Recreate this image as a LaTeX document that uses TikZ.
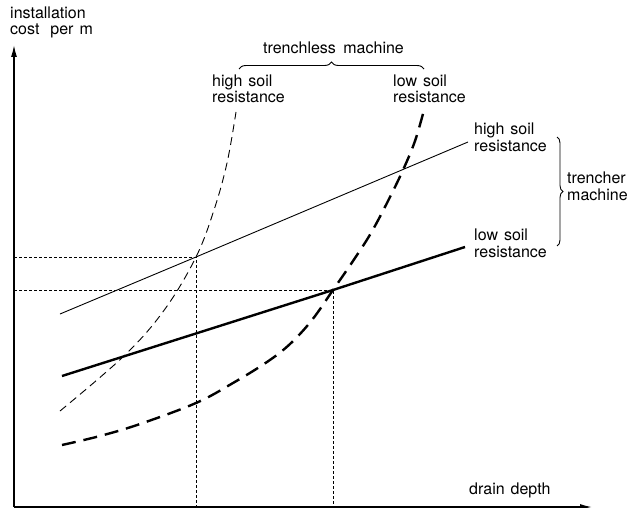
\documentclass[tikz,border=0pt]{standalone}
\usepackage{fontspec}
\setmainfont{TeX Gyre Heros}
\usetikzlibrary{decorations.pathreplacing,arrows.meta}
\begin{document}
\begin{tikzpicture}[x=1pt,y=-1pt,
  lbl/.style={inner sep=0pt,anchor=base west,font=\fontsize{16}{16}\selectfont},
  axis/.style={line width=1.4pt,-{Latex[length=12pt,width=6pt]}},
  thinline/.style={line width=0.9pt},
  thickline/.style={line width=2.4pt},
  thindash/.style={line width=0.9pt,dash pattern=on 8pt off 5pt},
  thickdash/.style={line width=2.4pt,dash pattern=on 14pt off 8pt},
  dotline/.style={line width=1pt,dash pattern=on 3pt off 2pt},
  bracestyle/.style={line width=0.9pt,decorate,decoration={brace,amplitude=#1}}
]
\useasboundingbox (0,0) rectangle (629,508);
% axes
\coordinate (O) at (14,507);
\coordinate (ytip) at (14,45);
\coordinate (xtip) at (592,507);
\draw[axis] (O) -- (ytip);
\draw[axis] (O) -- (xtip);
% trencher lines
\coordinate (h0) at (60,314);
\coordinate (H) at (196,257);
\coordinate (h1) at (468,142);
\coordinate (l0) at (62,376);
\coordinate (L) at (333,290);
\coordinate (l1) at (465,247);
\draw[thinline] (h0) -- (H) -- (h1);
\draw[thickline] (l0) -- (L) -- (l1);
% trenchless curves
\draw[thindash] plot[smooth,tension=0.6] coordinates {(60,411) (125,355) (165,309) (196,257) (214,210) (227,163) (236,112)};
\draw[thickdash] plot[smooth,tension=0.6] coordinates {(62,445) (100,436) (140,424) (196,403) (233,383) (267,362) (290,344) (312,320) (333,290) (353,261) (371,233) (388,201) (403,170) (415,141) (424,110)};
% dotted guides
\coordinate (yH) at (14,257);
\coordinate (xH) at (196,507);
\coordinate (yL) at (14,290);
\coordinate (xL) at (333,507);
\draw[dotline] (yH) -- (H) -- (xH);
\draw[dotline] (yL) -- (L) -- (xL);
% braces
\coordinate (b1a) at (239,69);
\coordinate (b1b) at (424,69);
\draw[bracestyle=7pt] (b1a) -- (b1b);
\coordinate (b2a) at (557,137);
\coordinate (b2b) at (557,246);
\draw[bracestyle=6pt] (b2a) -- (b2b);
% labels
\node[lbl] (ya1) at (10,19) {installation};
\node[lbl] (ya2) at (10,35) {cost\hspace{11pt}per\hspace{6pt}m};
\node[lbl] (tm) at (263,54) {trenchless\hspace{3pt} machine};
\node[lbl] (hs1) at (212,87) {high\hspace{6pt}soil};
\node[lbl] (hs2) at (212,103) {resistance};
\node[lbl] (ls1) at (393,87) {low\hspace{6pt}soil};
\node[lbl] (ls2) at (393,103) {resistance};
\node[lbl] (rh1) at (474,135) {high\hspace{6pt}soil};
\node[lbl] (rh2) at (474,152) {resistance};
\node[lbl] (rl1) at (474,240) {low\hspace{6pt}soil};
\node[lbl] (rl2) at (474,257) {resistance};
\node[lbl] (tr1) at (567,183) {trencher};
\node[lbl] (tr2) at (567,200) {machine};
\node[lbl] (dd) at (469,494) {drain\hspace{6pt}depth};
\end{tikzpicture}
\end{document}
